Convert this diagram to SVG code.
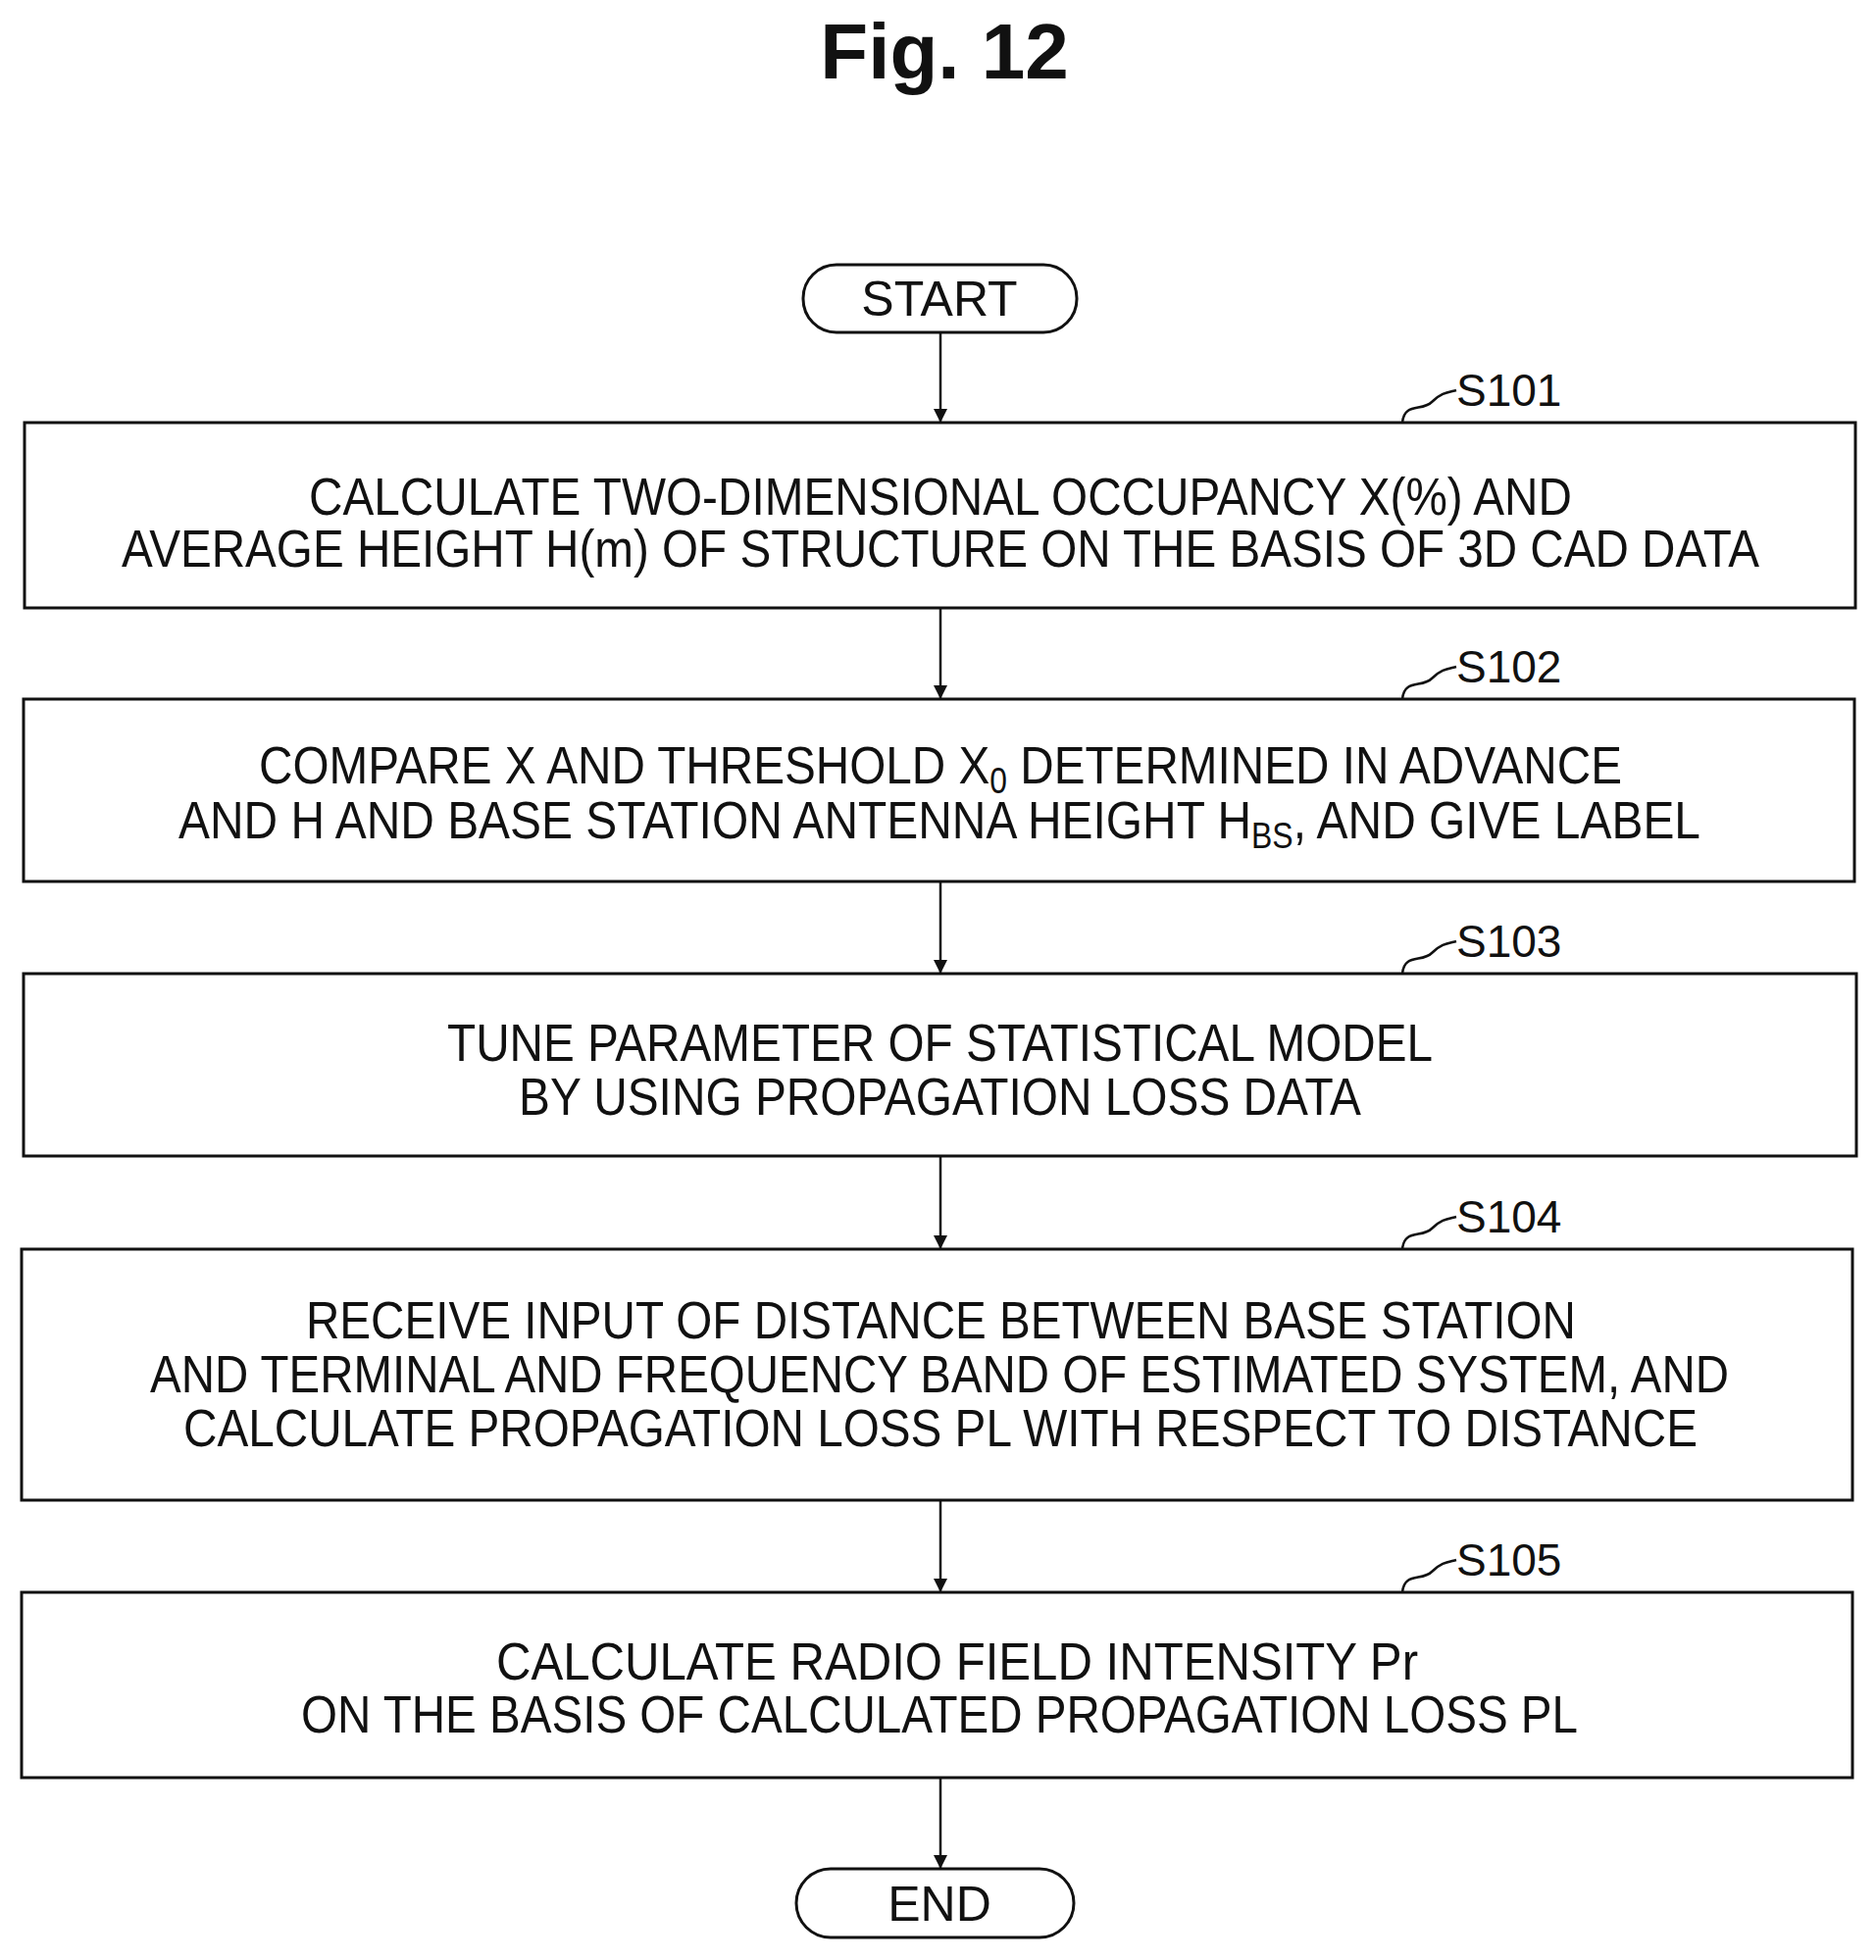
<svg xmlns="http://www.w3.org/2000/svg" width="1913" height="1999" viewBox="0 0 1913 1999">
<defs>
<marker id="ah" viewBox="0 0 10 10" refX="10" refY="5" markerWidth="14" markerHeight="14" markerUnits="userSpaceOnUse" orient="auto"><path d="M0,0 L10,5 L0,10 Z" fill="#111"/></marker>
</defs>
<style>
.box{fill:#fff;stroke:#111;stroke-width:3}
.t{font-family:"Liberation Sans",Arial,sans-serif;font-size:54px;fill:#111;text-anchor:start}
.c{font-family:"Liberation Sans",Arial,sans-serif;font-size:50px;fill:#111;text-anchor:middle}
.lb{font-family:"Liberation Sans",Arial,sans-serif;font-size:46px;fill:#111}
.sq{fill:none;stroke:#111;stroke-width:2.5}
.cn{stroke:#111;stroke-width:2.5;fill:none;marker-end:url(#ah)}
</style>
<rect width="1913" height="1999" fill="#fff"/>
<text x="963" y="80" font-family="Liberation Sans,Arial,sans-serif" font-weight="bold" font-size="80" text-anchor="middle" fill="#111">Fig. 12</text>
<g id="start"><rect class="box" x="819" y="270" width="279" height="69" rx="34"/><text class="c" x="958" y="322">START</text></g>
<g id="s101"><rect class="box" x="25" y="431" width="1867" height="189"/>
<text class="t" x="315" y="525" textLength="1288" lengthAdjust="spacingAndGlyphs">CALCULATE TWO-DIMENSIONAL OCCUPANCY X(%) AND</text>
<text class="t" x="124" y="578" textLength="1670" lengthAdjust="spacingAndGlyphs">AVERAGE HEIGHT H(m) OF STRUCTURE ON THE BASIS OF 3D CAD DATA</text>
<path class="sq" d="M1430,431 C1432,410 1450,420 1460,410 S1478,400 1485,398"/><text class="lb" x="1485" y="414">S101</text></g>
<g id="s102"><rect class="box" x="24" y="713" width="1867" height="186"/>
<text class="t" x="264" y="799" textLength="1390" lengthAdjust="spacingAndGlyphs">COMPARE X AND THRESHOLD X<tspan font-size="36" dy="10">0</tspan><tspan dy="-10"> DETERMINED IN ADVANCE</tspan></text>
<text class="t" x="182" y="855" textLength="1552" lengthAdjust="spacingAndGlyphs">AND H AND BASE STATION ANTENNA HEIGHT H<tspan font-size="36" dy="10">BS</tspan><tspan dy="-10">, AND GIVE LABEL</tspan></text>
<path class="sq" d="M1430,713 C1432,692 1450,702 1460,692 S1478,682 1485,680"/><text class="lb" x="1485" y="696">S102</text></g>
<g id="s103"><rect class="box" x="24" y="993" width="1869" height="186"/>
<text class="t" x="456" y="1082" textLength="1005" lengthAdjust="spacingAndGlyphs">TUNE PARAMETER OF STATISTICAL MODEL</text>
<text class="t" x="529" y="1137" textLength="859" lengthAdjust="spacingAndGlyphs">BY USING PROPAGATION LOSS DATA</text>
<path class="sq" d="M1430,993 C1432,972 1450,982 1460,972 S1478,962 1485,960"/><text class="lb" x="1485" y="976">S103</text></g>
<g id="s104"><rect class="box" x="22" y="1274" width="1867" height="256"/>
<text class="t" x="312" y="1365" textLength="1295" lengthAdjust="spacingAndGlyphs">RECEIVE INPUT OF DISTANCE BETWEEN BASE STATION</text>
<text class="t" x="153" y="1420" textLength="1610" lengthAdjust="spacingAndGlyphs">AND TERMINAL AND FREQUENCY BAND OF ESTIMATED SYSTEM, AND</text>
<text class="t" x="187" y="1475" textLength="1544" lengthAdjust="spacingAndGlyphs">CALCULATE PROPAGATION LOSS PL WITH RESPECT TO DISTANCE</text>
<path class="sq" d="M1430,1274 C1432,1253 1450,1263 1460,1253 S1478,1243 1485,1241"/><text class="lb" x="1485" y="1257">S104</text></g>
<g id="s105"><rect class="box" x="22" y="1624" width="1867" height="189"/>
<text class="t" x="506" y="1713" textLength="940" lengthAdjust="spacingAndGlyphs">CALCULATE RADIO FIELD INTENSITY Pr</text>
<text class="t" x="307" y="1767" textLength="1302" lengthAdjust="spacingAndGlyphs">ON THE BASIS OF CALCULATED PROPAGATION LOSS PL</text>
<path class="sq" d="M1430,1624 C1432,1603 1450,1613 1460,1603 S1478,1593 1485,1591"/><text class="lb" x="1485" y="1607">S105</text></g>
<g id="end"><rect class="box" x="812" y="1906" width="283" height="70" rx="35"/><text class="c" x="958" y="1959">END</text></g>
<g id="connectors">
<line class="cn" x1="959" y1="339" x2="959" y2="431"/>
<line class="cn" x1="959" y1="620" x2="959" y2="713"/>
<line class="cn" x1="959" y1="899" x2="959" y2="993"/>
<line class="cn" x1="959" y1="1179" x2="959" y2="1274"/>
<line class="cn" x1="959" y1="1530" x2="959" y2="1624"/>
<line class="cn" x1="959" y1="1813" x2="959" y2="1906"/>
</g>
</svg>
